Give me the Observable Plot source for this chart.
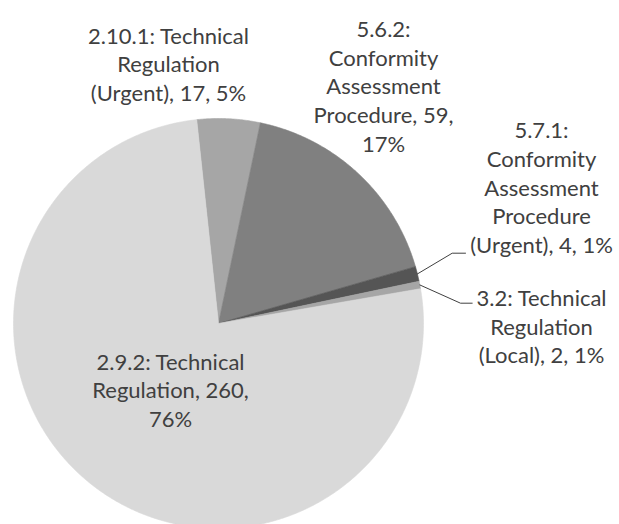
<!DOCTYPE html>
<html>
<head>
<meta charset="utf-8">
<script src="https://cdn.jsdelivr.net/npm/d3@7"></script>
<script src="https://cdn.jsdelivr.net/npm/@observablehq/plot@0.6"></script>
<style>
  html, body { margin: 0; padding: 0; background: #ffffff; overflow: hidden; }
  #chart svg { display: block; background: #ffffff; }
</style>
</head>
<body>
<div id="chart"></div>
<script>
// ---- data ----
const categories = [
  "2.10.1: Technical Regulation (Urgent)",
  "5.6.2: Conformity Assessment Procedure",
  "5.7.1: Conformity Assessment Procedure (Urgent)",
  "3.2: Technical Regulation (Local)",
  "2.9.2: Technical Regulation"
];
const values = [17, 59, 4, 2, 260];

// ---- styles / layout ----
const sliceColors = ["#a6a6a6", "#808080", "#555555", "#a6a6a6", "#d9d9d9"];
const W = 619, H = 524;
const CX = 218, CY = 323, R = 205;
const START = -6.1 * Math.PI / 180;
const labelAnchors = [[168, 62.5], [383, 84.7], [541, 186], [541, 325], [170, 388.5]];
const wrapChars = [17, 14, 15, 14, 16];
const leaderElbows = {2: [[451.7, 252.7], [465, 252.7]], 3: [[460, 302.7], [471.7, 302.7]]};
const textColor = "#404040";

const total = d3.sum(values);
const arcs = d3.pie().sort(null).value(d => d).startAngle(START).endAngle(START + 2 * Math.PI)(values);

// slice polygons computed from the data angles
const slicePts = [];
arcs.forEach((a, i) => {
  slicePts.push({k: i, x: CX, y: CY});
  const n = Math.max(2, Math.ceil((a.endAngle - a.startAngle) / (0.4 * Math.PI / 180)));
  for (let j = 0; j <= n; j++) {
    const t = a.startAngle + (a.endAngle - a.startAngle) * j / n;
    slicePts.push({k: i, x: CX + R * Math.sin(t), y: CY - R * Math.cos(t)});
  }
  slicePts.push({k: i, x: CX, y: CY});
});

// leader lines
const leaderPts = [];
Object.keys(leaderElbows).forEach(key => {
  const i = +key, a = arcs[i];
  const m = (a.startAngle + a.endAngle) / 2;
  leaderPts.push({k: i, x: CX + R * Math.sin(m), y: CY - R * Math.cos(m)});
  leaderElbows[i].forEach(([x, y]) => leaderPts.push({k: i, x, y}));
});

function wrap(str, max) {
  const words = str.split(" ");
  const lines = [];
  let cur = "";
  for (const w of words) {
    if (!cur) cur = w;
    else if ((cur + " " + w).length <= max) cur += " " + w;
    else { lines.push(cur); cur = w; }
  }
  if (cur) lines.push(cur);
  return lines.join("\n");
}

const labels = categories.map((c, i) => ({
  x: labelAnchors[i][0],
  y: labelAnchors[i][1],
  text: wrap(`${c}, ${values[i]}, ${Math.round(values[i] / total * 100)}%`, wrapChars[i])
}));

const chart = Plot.plot({
  width: W,
  height: H,
  margin: 0,
  x: {type: "linear", domain: [0, W], range: [0, W], axis: null},
  y: {type: "linear", domain: [0, H], range: [0, H], axis: null},
  color: {type: "identity"},
  style: {background: "#ffffff"},
  marks: [
    Plot.line(slicePts, {
      x: "x", y: "y", z: "k",
      fill: d => sliceColors[d.k],
      stroke: d => sliceColors[d.k],
      strokeWidth: 0.6,
      curve: "linear"
    }),
    Plot.line(leaderPts, {x: "x", y: "y", z: "k", stroke: textColor, strokeWidth: 1}),
    Plot.text(labels, {
      x: "x", y: "y", text: "text",
      textAnchor: "middle", lineAnchor: "middle",
      fontSize: 22, fontFamily: "Lato", lineHeight: 1.3,
      fill: textColor
    })
  ]
});
document.getElementById("chart").appendChild(chart);
</script>
</body>
</html>
